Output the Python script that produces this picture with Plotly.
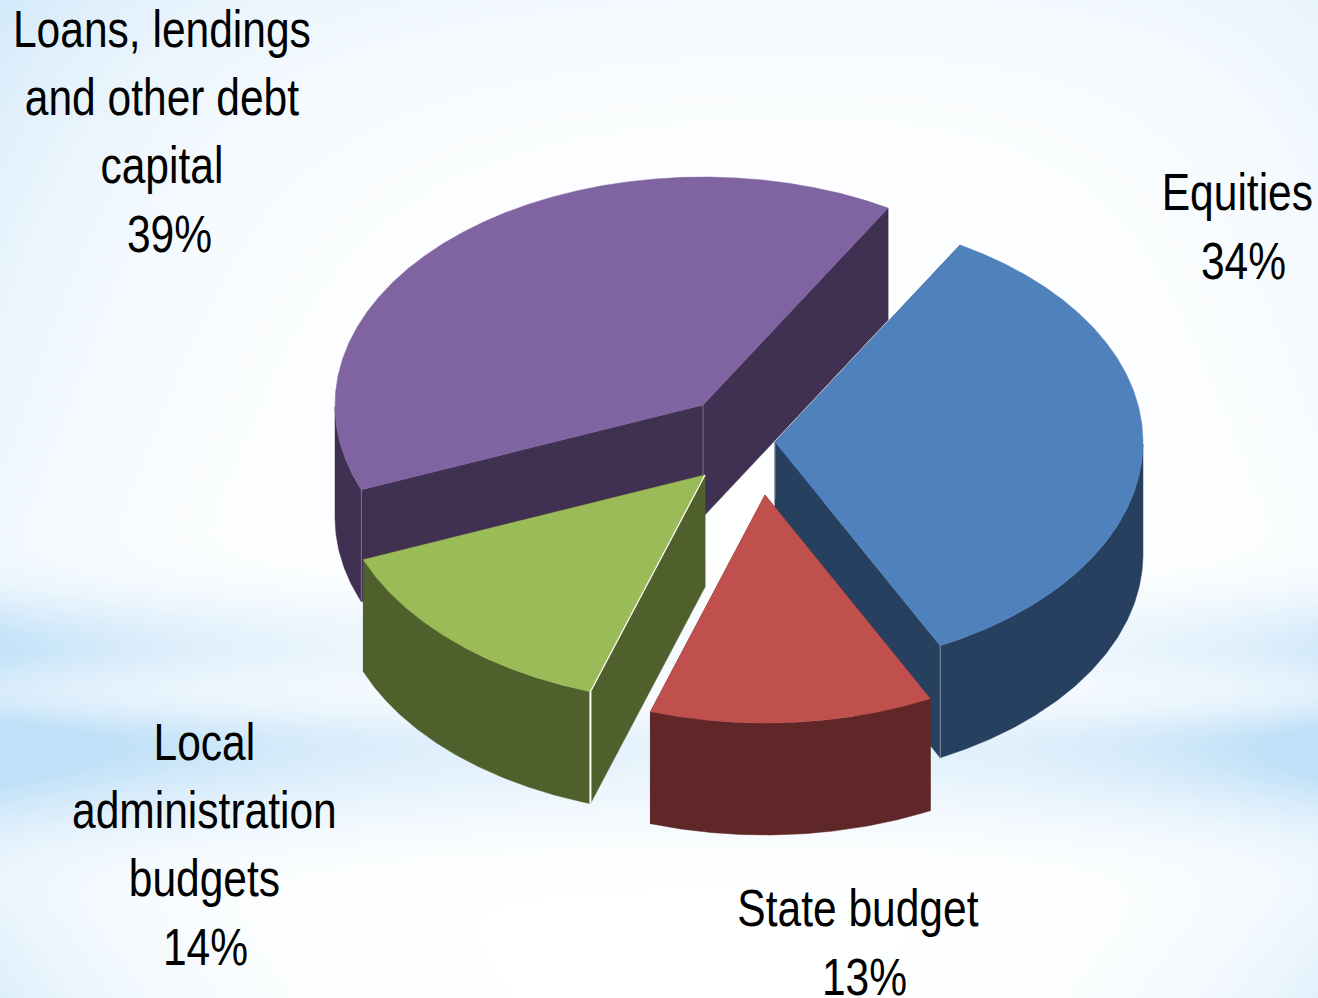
import numpy as np
import plotly.graph_objects as go

# ---- chart data ----
categories = ["Equities", "State budget", "Local<br>administration<br>budgets", "Loans, lendings<br>and other debt<br>capital"]
share_labels = ["34%", "13%", "14%", "39%"]
# angular share (percent of the circle)
slice_shares = [34.2, 12.45, 13.9, 39.45]
top_colors = ["#4F81BD", "#C0504D", "#9BBB59", "#8064A2"]
side_colors = ["#274060", "#5F2727", "#4F602C", "#403152"]

# ---- pie projection ----
W, H = 1318, 998
RX, RY, DEPTH = 368, 228, 112
START_DEG = 59.8  # parametric angle of first slice's start edge
apexes = [(775, 442), (765, 495), (705, 475), (703, 405)]
name_pos = [(1237, 191.5), (858, 907.5), (204, 809.5), (162, 96.5)]
pct_pos = [(1243, 260.5), (864, 976.5), (205, 946.5), (169, 233.5)]
draw_order = [3, 2, 0, 1]
FONT = "Liberation Sans, Arial, sans-serif"
FONT_SIZE = 52.5
TEXT_SQUEEZE = 0.81

def ell(c, t):
    return c[0] + RX * np.cos(t), c[1] - RY * np.sin(t)

edges = START_DEG - np.concatenate([[0], np.cumsum(slice_shares)]) * 3.6

fig = go.Figure()

# ---- background wash ----
gx = np.linspace(0, W, 110)
gy = np.linspace(0, H, 170)
X, Y = np.meshgrid(gx, gy)
def band(v, c, up, down):
    s = np.where(v < c, up, down)
    return np.exp(-((v - c) / s) ** 2)
edge_l = np.exp(-X / 180)
edge_r = np.exp(-(W - X) / 160)
wash = (
    0.28 * np.exp(-Y / 110) * (0.5 + 0.5 * np.exp(-X / 500))
    + 0.42 * edge_l * np.clip(1.1 - Y / 900, 0.1, 1)
    + 0.22 * edge_r * np.clip(1 - Y / 900, 0.1, 1)
    + band(Y, 645, 50, 35) * (0.6 * np.exp(-X / 300) + 0.45 * np.exp(-(W - X) / 220) + 0.06)
    + band(Y, 695, 60, 60) * (0.25 * np.exp(-X / 300) + 0.2 * np.exp(-(W - X) / 220))
    + band(Y, 748, 38, 75) * (1.0 * np.exp(-X / 420) + 0.95 * np.exp(-(W - X) / 260) + 0.08)
    + 0.5 * np.exp(-X / 140) * np.clip((Y - 780) / 220, 0, 1)
    + 0.45 * np.exp(-(W - X) / 130) * np.clip((Y - 800) / 200, 0, 1)
)
fig.add_trace(go.Heatmap(
    x=gx, y=gy, z=np.clip(wash, 0, 1), zmin=0, zmax=1, zsmooth="best",
    colorscale=[[0, "#FFFFFF"], [1, "#BFE0F8"]], showscale=False, hoverinfo="skip",
))

def poly(xs, ys, color, name):
    fig.add_trace(go.Scatter(
        x=xs, y=ys, mode="lines", fill="toself", fillcolor=color,
        line=dict(color=color, width=0.5), hoverinfo="skip", name=name, showlegend=False,
    ))

def seam(xs, ys, color, width):
    fig.add_trace(go.Scatter(x=xs, y=ys, mode="lines", line=dict(color=color, width=width),
                             hoverinfo="skip", showlegend=False))

for i in draw_order:
    c = apexes[i]
    a0, a1 = np.radians(edges[i]), np.radians(edges[i + 1])
    t = np.linspace(a0, a1, max(6, int(abs(edges[i] - edges[i + 1]) / 4)))
    rx, ry = ell(c, t)
    # radial side faces
    for a in (a0, a1):
        px, py = ell(c, a)
        poly([c[0], px, px, c[0], c[0]], [c[1], py, py + DEPTH, c[1] + DEPTH, c[1]], side_colors[i], categories[i])
    # outer wall: only the front half of the rim
    fine = np.linspace(a0, a1, 240)
    front = fine[np.sin(fine) <= 0]
    if front.size:
        fx, fy = ell(c, front)
        poly(np.r_[fx, fx[::-1], fx[0]], np.r_[fy, fy[::-1] + DEPTH, fy[0]], side_colors[i], categories[i])
    # top
    poly(np.r_[c[0], rx, c[0]], np.r_[c[1], ry, c[1]], top_colors[i], categories[i])
    # seams
    if i == 0:
        sx, sy = ell(c, a1)
        seam([sx, sx], [sy, sy + DEPTH], "#7F8FA3", 1)
        seam([c[0], c[0]], [c[1], c[1] + DEPTH - 55], "#7F8FA3", 1)
    if i == 2:
        sx, sy = ell(c, a0)
        seam([sx, sx], [sy, sy + DEPTH], "#FFFFFF", 2)
        seam([c[0], sx], [c[1], sy], "#FFFFFF", 1.2)
    if i == 3:
        sx, sy = ell(c, a0)
        seam([sx, sx], [sy, sy + DEPTH], "#7D7589", 1)
        seam([c[0], c[0]], [c[1], c[1] + DEPTH - 40], "#7D7589", 1)

font = dict(family=FONT, size=FONT_SIZE, color="#000000")
for i in range(len(categories)):
    fig.add_annotation(x=name_pos[i][0], y=name_pos[i][1], text=categories[i], showarrow=False,
                       xanchor="center", yanchor="middle", align="center", font=font)
    fig.add_annotation(x=pct_pos[i][0], y=pct_pos[i][1], text=share_labels[i], showarrow=False,
                       xanchor="center", yanchor="middle", align="center", font=font)

fig.update_layout(
    width=W, height=H, margin=dict(l=0, r=0, t=0, b=0),
    paper_bgcolor="#FFFFFF", plot_bgcolor="#FFFFFF", showlegend=False,
    xaxis=dict(range=[0, W], visible=False, fixedrange=True),
    yaxis=dict(range=[H, 0], visible=False, fixedrange=True),
)
squeeze_js = """
document.body.style.margin='0';
document.documentElement.style.overflow='hidden';
document.querySelectorAll('.annotation-text').forEach(function(t){
  var b=t.getBBox(), cx=b.x+b.width/2;
  t.setAttribute('transform','translate('+cx+',0) scale(%s,1) translate('+(-cx)+',0)');
});
""" % TEXT_SQUEEZE
fig.write_html("out.html", config={"displayModeBar": False}, post_script=squeeze_js)
